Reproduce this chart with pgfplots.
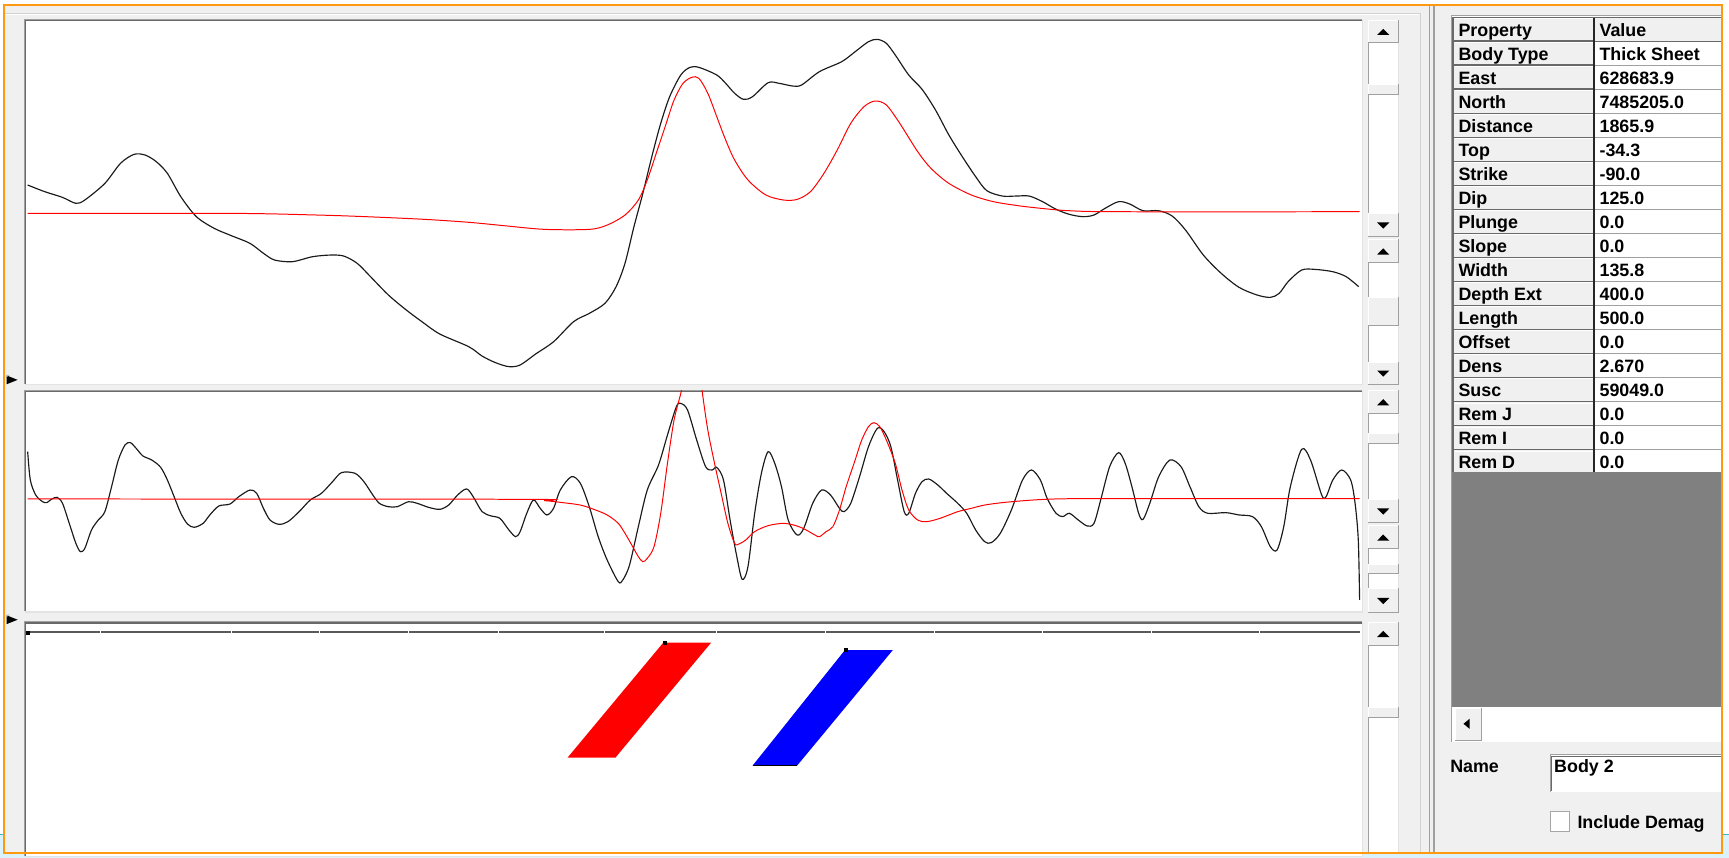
\documentclass[border=0pt]{standalone}
\usepackage{fontspec}
\setmainfont{Liberation Sans}
\usepackage{pgfplots}
\pgfplotsset{compat=1.18}
\definecolor{winbg}{HTML}{F0F0F0}
\definecolor{winorange}{HTML}{FF9A10}
\definecolor{bdark}{HTML}{A0A0A0}
\definecolor{bdarker}{HTML}{696969}
\definecolor{blight}{HTML}{E3E3E3}
\definecolor{deskblue}{HTML}{D9F2FC}
\definecolor{deskline}{HTML}{3CB4DC}
\definecolor{curveblack}{HTML}{1A1A1A}
\definecolor{tablegrey}{HTML}{808080}
\newcommand\uifont{\fontsize{16.2}{18}\selectfont\bfseries}
% panel: x1,y1,x2,y2 (screen px, y down)
\newcommand\panel[4]{%
  \fill[white] (#1,#2) rectangle (#3,#4);
  \draw[bdark,line width=1pt] (#1-0.5,#4) -- (#1-0.5,#2-0.5) -- (#3,#2-0.5);
  \draw[bdarker,line width=1pt] (#1+0.5,#4) -- (#1+0.5,#2+0.5) -- (#3,#2+0.5);
  \draw[blight,line width=1pt] (#1,#4+0.5) -- (#3+0.5,#4+0.5) -- (#3+0.5,#2);
}
\newcommand\sbbtn[2]{%
  \fill[winbg] (1240.3,#1) rectangle (1268.5,#2);
  \draw[white,line width=0.8pt] (1240.7,#2) -- (1240.7,#1+0.4) -- (1268.5,#1+0.4);
  \draw[bdark,line width=0.9pt] (1240.3,#2-0.4) -- (1268.1,#2-0.4) -- (1268.1,#1);
}
\newcommand\upbtn[2]{%
  \sbbtn{#1}{#2}
  \fill[black] (1248.9,{(#1+#2)/2+3}) -- (1259.9,{(#1+#2)/2+3}) -- (1254.4,{(#1+#2)/2-2.6}) -- cycle;
}
\newcommand\dnbtn[2]{%
  \sbbtn{#1}{#2}
  \fill[black] (1248.9,{(#1+#2)/2-2.6}) -- (1259.9,{(#1+#2)/2-2.6}) -- (1254.4,{(#1+#2)/2+3}) -- cycle;
}
% track: y1,y2,thumb1,thumb2
\newcommand\track[4]{%
  \fill[white] (1240.3,#1) rectangle (1268.5,#2);
  \draw[bdark,line width=0.8pt] (1240.7,#1) -- (1240.7,#2);
  \draw[blight,line width=0.8pt] (1268.1,#1) -- (1268.1,#2);
  \fill[winbg] (1240.3,#3) rectangle (1268.5,#4);
  \draw[white,line width=0.8pt] (1240.7,#4) -- (1240.7,#3+0.4) -- (1268.5,#3+0.4);
  \draw[bdark,line width=0.9pt] (1240.3,#4-0.4) -- (1268.1,#4-0.4) -- (1268.1,#3);
}
\begin{document}
\begin{tikzpicture}
\begin{scope}[x=1pt,y=-1pt]
\useasboundingbox (0,0) rectangle (1568,778);
\fill[white] (0,0) rectangle (1568,778);
\fill[deskblue] (0,757) rectangle (1568,778);
\draw[deskline,line width=1pt] (0,757) -- (1568,757);
\fill[winbg] (3.6,4.3) rectangle (1561.6,773.6);
% left pane group box and splitter
\draw[gray!35,line width=0.8pt] (4,12.1) -- (1288,12.1) -- (1288,774);
\draw[white,line width=0.6pt] (4,13.2) -- (1287,13.2);
\draw[bdark,line width=1.3pt] (1296.3,4.5) -- (1296.3,774);
\draw[bdark,line width=1.3pt] (1300.3,4.5) -- (1300.3,774);
% plot panels
\panel{23}{18}{1235}{348}
\panel{23}{354.5}{1235}{554.5}
\panel{23}{564.5}{1235}{776}
% splitter markers
\fill[black] (6,340.5) -- (16,344.5) -- (6,348.5) -- cycle;
\fill[gray!60] (6,340) -- (9,340) -- (6,342) -- cycle;
\fill[black] (6,558) -- (16,562) -- (6,566) -- cycle;
\fill[gray!60] (6,557.5) -- (9,557.5) -- (6,559.5) -- cycle;
\end{scope}

% ---------- top panel ----------
\begin{axis}[at={(23pt,-348pt)}, anchor=south west, scale only axis,
  width=1212pt, height=330pt, xmin=23, xmax=1235, ymin=18, ymax=348,
  y dir=reverse, hide axis, clip=true]
\addplot[curveblack, line width=1.05pt, smooth] coordinates {
(25.1,167.8) (40.5,173.8) (56.7,179.0) (68.8,184.4) (76.9,181.4) (95.1,166.3)
(109.3,148.1) (121.5,140.0) (131.6,140.6) (141.7,146.6) (151.8,157.2) (164.0,178.4)
(178.1,196.5) (194.3,207.1) (210.5,214.0) (226.7,220.7) (238.9,229.7) (249.0,235.8)
(265.2,237.3) (283.4,232.8) (299.6,231.3) (311.7,232.2) (323.9,238.8) (336.0,250.9)
(352.2,267.5) (368.4,281.1) (382.6,291.7) (398.8,302.9) (425.1,314.4) (437.2,322.9)
(449.4,328.9) (461.5,332.5) (471.7,331.0) (485.8,321.0) (502.0,309.9) (520.2,291.7)
(534.4,284.2) (548.6,275.1) (558.7,260.0) (566.8,238.8) (574.9,205.6) (583.0,175.3)
(591.1,142.1) (599.2,111.9) (607.3,87.7) (617.4,68.0) (625.7,61.1) (633.8,61.1)
(650.0,68.0) (658.1,75.6) (666.2,84.6) (674.3,90.1) (682.4,87.7) (696.6,75.0)
(706.7,75.6) (718.8,78.0) (726.9,77.1) (743.1,65.0) (763.4,55.9) (775.5,46.9)
(787.6,37.8) (795.7,35.7) (803.8,39.3) (811.9,49.9) (824.1,68.0) (836.2,81.0)
(848.4,99.8) (860.5,122.4) (872.7,142.1) (884.8,160.2) (894.9,172.9) (909.1,177.8)
(921.2,177.8) (933.4,177.8) (945.5,182.9) (957.7,189.8) (969.8,194.4) (982.0,196.5)
(992.1,195.0) (1002.2,188.9) (1014.4,182.9) (1024.5,185.0) (1036.6,191.1) (1050.8,191.1)
(1063.0,195.9) (1075.1,208.6) (1091.3,231.3) (1107.5,247.9) (1123.7,260.6) (1139.9,267.5)
(1152.0,269.7) (1160.1,266.0) (1168.2,255.4) (1180.4,244.9) (1192.5,244.3) (1208.7,246.4)
(1220.8,250.9) (1232.2,260.0)
};
\addplot[red, line width=0.9pt, smooth] coordinates {
(25.1,193.5) (210.5,193.5) (287.4,195.0) (332.0,196.5) (384.6,198.9) (425.1,201.6)
(457.5,204.7) (493.9,208.0) (534.4,208.0) (550.6,204.1) (566.8,195.0) (578.9,181.4)
(587.0,163.2) (595.1,139.1) (603.2,114.9) (611.3,90.7) (619.4,75.6) (627.5,70.1)
(633.8,71.0) (641.9,84.6) (650.0,105.8) (658.1,127.0) (666.2,145.1) (678.3,163.2)
(694.5,176.8) (710.7,181.4) (722.9,180.8) (735.0,173.8) (747.2,157.2) (759.3,136.0)
(771.5,111.9) (783.6,96.7) (793.7,91.6) (803.8,95.2) (816.0,111.9) (832.2,137.5)
(844.3,152.7) (860.5,166.3) (880.8,176.8) (901.0,182.9) (925.3,186.8) (949.6,189.5)
(969.8,191.1) (1014.4,192.0) (1233,192.0)
};
\end{axis}

% ---------- middle panel ----------
\begin{axis}[at={(23pt,-554.5pt)}, anchor=south west, scale only axis,
  width=1212pt, height=200pt, xmin=23, xmax=1235, ymin=354.5, ymax=554.5,
  y dir=reverse, hide axis, clip=true]
\addplot[curveblack, line width=1.05pt, smooth] coordinates {
(25.1,409.6) (27.5,435.3) (32.4,448.9) (38.5,454.9) (42.5,455.8) (46.6,452.8)
(51.8,451.0) (56.7,456.5) (62.8,474.6) (68.8,492.7) (72.9,500.3) (76.9,497.3)
(83.0,480.6) (89.1,471.6) (95.1,464.0) (101.2,441.3) (107.3,417.2) (113.4,403.5)
(118.2,401.4) (123.5,406.6) (129.6,413.5) (137.7,417.2) (145.7,423.8) (151.8,435.3)
(157.9,450.4) (164.0,465.5) (170.0,475.2) (176.1,478.2) (184.2,474.6) (190.3,467.0)
(198.4,458.9) (208.5,457.1) (216.6,450.4) (226.7,444.4) (232.8,447.4) (238.9,461.0)
(244.9,471.6) (253.0,475.5) (261.1,473.1) (271.3,464.0) (281.4,453.4) (291.5,447.4)
(301.6,436.8) (309.7,428.6) (321.9,429.2) (330.0,436.8) (338.1,448.9) (344.1,456.5)
(352.2,459.5) (360.3,459.5) (370.4,455.0) (378.5,456.5) (388.7,460.1) (398.8,461.9)
(406.9,458.0) (415.0,448.9) (423.1,443.4) (429.1,450.4) (437.2,464.0) (445.3,467.9)
(453.4,470.1) (461.5,480.6) (467.6,486.7) (471.7,482.1) (477.7,465.5) (483.8,453.4)
(489.9,461.0) (496.0,467.0) (502.0,461.0) (508.1,444.4) (518.2,432.3) (526.3,438.3)
(534.4,459.5) (542.5,486.7) (550.6,507.8) (560.7,527.5) (564.8,526.0) (570.9,512.4)
(578.9,477.6) (587.0,444.4) (597.2,421.7) (605.3,394.5) (613.4,368.8) (617.4,365.8)
(623.5,371.8) (631.8,399.0) (639.9,423.2) (645.9,426.2) (650.0,423.8) (656.1,435.3)
(662.1,471.6) (668.2,504.8) (673.1,525.4) (678.3,513.9) (684.4,465.5) (690.5,429.2)
(696.6,409.6) (702.6,420.2) (708.7,441.3) (714.8,471.6) (722.9,485.2) (728.9,479.1)
(737.0,456.5) (745.1,444.4) (753.2,448.9) (761.3,461.0) (765.4,464.0) (771.5,456.5)
(779.5,432.3) (787.6,405.1) (795.7,388.4) (801.8,391.5) (807.9,405.1) (814.0,435.3)
(820.0,464.0) (824.1,465.5) (830.2,447.4) (836.2,436.8) (842.3,434.4) (850.4,439.8)
(858.5,447.4) (868.6,456.5) (876.7,465.5) (884.8,480.6) (892.9,491.2) (899.0,492.1)
(907.1,483.7) (917.2,462.5) (927.3,435.3) (935.4,426.2) (943.5,435.3) (949.6,451.9)
(957.7,465.5) (963.8,468.5) (969.8,465.5) (977.9,471.6) (986.0,477.0) (992.1,474.6)
(998.2,453.4) (1006.3,423.2) (1014.4,410.5) (1020.4,420.2) (1026.5,441.3) (1032.6,465.5)
(1036.6,471.0) (1042.7,456.5) (1050.8,432.3) (1060.9,417.2) (1071.0,423.2) (1079.1,441.3)
(1087.2,459.5) (1095.3,465.5) (1111.5,464.9) (1123.7,467.0) (1135.8,468.5) (1143.9,477.6)
(1152.0,495.7) (1158.1,498.8) (1164.2,477.6) (1170.2,441.3) (1180.4,407.5) (1188.5,417.2)
(1198.6,448.9) (1202.6,450.4) (1208.7,435.3) (1216.8,426.2) (1224.9,435.3) (1228.9,456.5)
(1231.8,489.7) (1233.0,544.1)
};
\addplot[red, line width=0.9pt, smooth] coordinates {
(25.1,452.5) (469.6,452.8) (493.9,454.0) (510.1,455.8) (526.3,458.0) (538.5,461.9)
(550.6,467.0) (560.7,474.6) (566.8,483.7) (572.9,494.2) (578.9,504.8) (583.0,509.4)
(587.0,506.3) (593.1,495.8) (599.2,465.5) (605.3,420.2) (611.3,380.9) (617.4,356.7)
(622,335) (634,335) (637.0,356.7) (641.9,390.0) (648.0,420.2) (654.0,447.4)
(660.1,474.6) (666.2,492.7) (670.2,493.3) (676.3,489.7) (684.4,482.1) (696.6,476.7)
(710.7,474.6) (722.9,477.0) (731.0,480.6) (739.1,485.2) (743.1,486.7) (749.2,482.1)
(755.3,477.6) (761.3,462.5) (767.4,441.3) (775.5,417.2) (781.5,399.0) (787.6,386.9)
(792.5,383.3) (797.8,386.9) (803.8,399.0) (811.9,420.2) (818.0,444.4) (824.1,462.5)
(832.2,471.6) (840.3,473.1) (852.4,470.1) (868.6,464.0) (880.8,461.0) (892.9,458.0)
(909.1,455.8) (929.3,454.0) (949.6,452.8) (990.1,452.2) (1233,452.2)
};
\end{axis}

% ---------- bottom panel ----------
\begin{axis}[at={(23pt,-774pt)}, anchor=south west, scale only axis,
  width=1212pt, height=209.5pt, xmin=23, xmax=1235, ymin=564.5, ymax=774,
  y dir=reverse, hide axis, clip=true]
\addplot[black!65, line width=1.5pt] coordinates {(25,573.4) (1233,573.4)};
\addplot[white, only marks, mark=|, mark size=1.2pt, mark options={line width=0.8pt}] coordinates {
(91,573.4) (210,573.4) (290,573.4) (370,573.4) (452,573.4) (548,573.4)
(650,573.4) (749,573.4) (847,573.4) (945,573.4) (1044,573.4) (1142,573.4)};
\addplot[fill=red, draw=none] coordinates {
(601.5,582.8) (644.9,582.8) (558.1,687.1) (514.7,687.1)} -- cycle;
\addplot[fill=blue, draw=none] coordinates {
(766.3,589.5) (809.7,589.5) (722.9,694.3) (682.5,694.3)} -- cycle;
\addplot[black, line width=1.2pt] coordinates {(682.5,694.3) (722.9,694.3)};
\addplot[black, only marks, mark=square*, mark size=1.4pt] coordinates {
(25,573.4) (602.5,582.5) (767.3,589.2)};
\end{axis}

\begin{scope}[x=1pt,y=-1pt]
% scrollbars
\upbtn{18.1}{39.3}
\track{39.3}{193.5}{76.2}{86.2}
\dnbtn{193.5}{215.2}
\upbtn{217}{238.8}
\track{238.8}{328}{269}{295.6}
\dnbtn{328}{349.2}
\upbtn{353.7}{375.5}
\track{375.5}{452.8}{393}{402.7}
\dnbtn{452.8}{474.6}
\upbtn{476.4}{498.2}
\track{498.2}{533.6}{511.5}{520.6}
\dnbtn{533.6}{556.2}
\upbtn{563.8}{585.6}
\track{585.6}{774}{640.9}{651.5}

% property table
\fill[white] (1316.5,14) rectangle (1561.6,672.6);
\draw[bdark,line width=0.8pt] (1316.5,672.6) -- (1316.5,14) -- (1561.6,14);
\fill[winbg] (1318,15.7) rectangle (1445.6,427.8);
\fill[winbg] (1445.6,15.7) rectangle (1561.6,37.5);
\uifont
\foreach \i/\p/\v in {0/Property/Value, 1/Body Type/Thick Sheet, 2/East/628683.9,
  3/North/7485205.0, 4/Distance/1865.9, 5/Top/-34.3, 6/Strike/-90.0, 7/Dip/125.0,
  8/Plunge/0.0, 9/Slope/0.0, 10/Width/135.8, 11/Depth Ext/400.0, 12/Length/500.0,
  13/Offset/0.0, 14/Dens/2.670, 15/Susc/59049.0, 16/Rem J/0.0, 17/Rem I/0.0, 18/Rem D/0.0} {
  \pgfmathsetmacro\yt{15.7+21.77*\i}
  \pgfmathsetmacro\yb{15.7+21.77*(\i+1)}
  \draw[white,line width=0.8pt] (1319.5,\yt+1.4) -- (1444.5,\yt+1.4);
  \draw[bdarker,line width=1.5pt] (1318,\yb) -- (1445.6,\yb);
  \draw[bdark,line width=1.1pt] (1445.6,\yb) -- (1561.6,\yb);
  \node[anchor=base west, inner sep=0pt] at (1322.5,\yt+17.3) {\p};
  \node[anchor=base west, inner sep=0pt] at (1450.4,\yt+17.3) {\v};
}
\draw[bdarker,line width=1.5pt] (1445.6,37.5) -- (1561.6,37.5);
\draw[black!85,line width=1.4pt] (1445.6,15.7) -- (1445.6,427.8);
\draw[bdarker,line width=2pt] (1318,15.7) -- (1318,427.8);
\draw[bdarker,line width=1.4pt] (1318,15.7) -- (1561.6,15.7);
\fill[tablegrey] (1316.9,427.8) rectangle (1561.6,641);
% horizontal scrollbar
\fill[winbg] (1319.5,642) rectangle (1343.6,672.2);
\draw[white,line width=0.8pt] (1319.9,672.2) -- (1319.9,642.4) -- (1343.6,642.4);
\draw[bdark,line width=0.8pt] (1319.5,671.8) -- (1343.2,671.8) -- (1343.2,642);
\fill[black] (1327.2,656.4) -- (1332.8,651.8) -- (1332.8,661) -- cycle;
% name box and checkbox
\node[anchor=base west, inner sep=0pt] at (1315,700.4) {Name};
\fill[white] (1405.6,684) rectangle (1561.6,718);
\draw[bdark,line width=1pt] (1406,718) -- (1406,684.5) -- (1561.6,684.5);
\draw[bdarker,line width=0.8pt] (1407.3,717) -- (1407.3,685.8) -- (1561.6,685.8);
\node[anchor=base west, inner sep=0pt] at (1409.3,700.4) {Body 2};
\fill[white] (1405.6,736) rectangle (1423,754);
\draw[gray!70,line width=0.8pt] (1405.6,736) rectangle (1423,754);
\node[anchor=base west, inner sep=0pt] at (1430.4,751.2) {Include Demag};
% window border
\draw[winorange,line width=1.5pt] (3.6,4.3) rectangle (1561.6,773.6);
\end{scope}
\end{tikzpicture}
\end{document}
